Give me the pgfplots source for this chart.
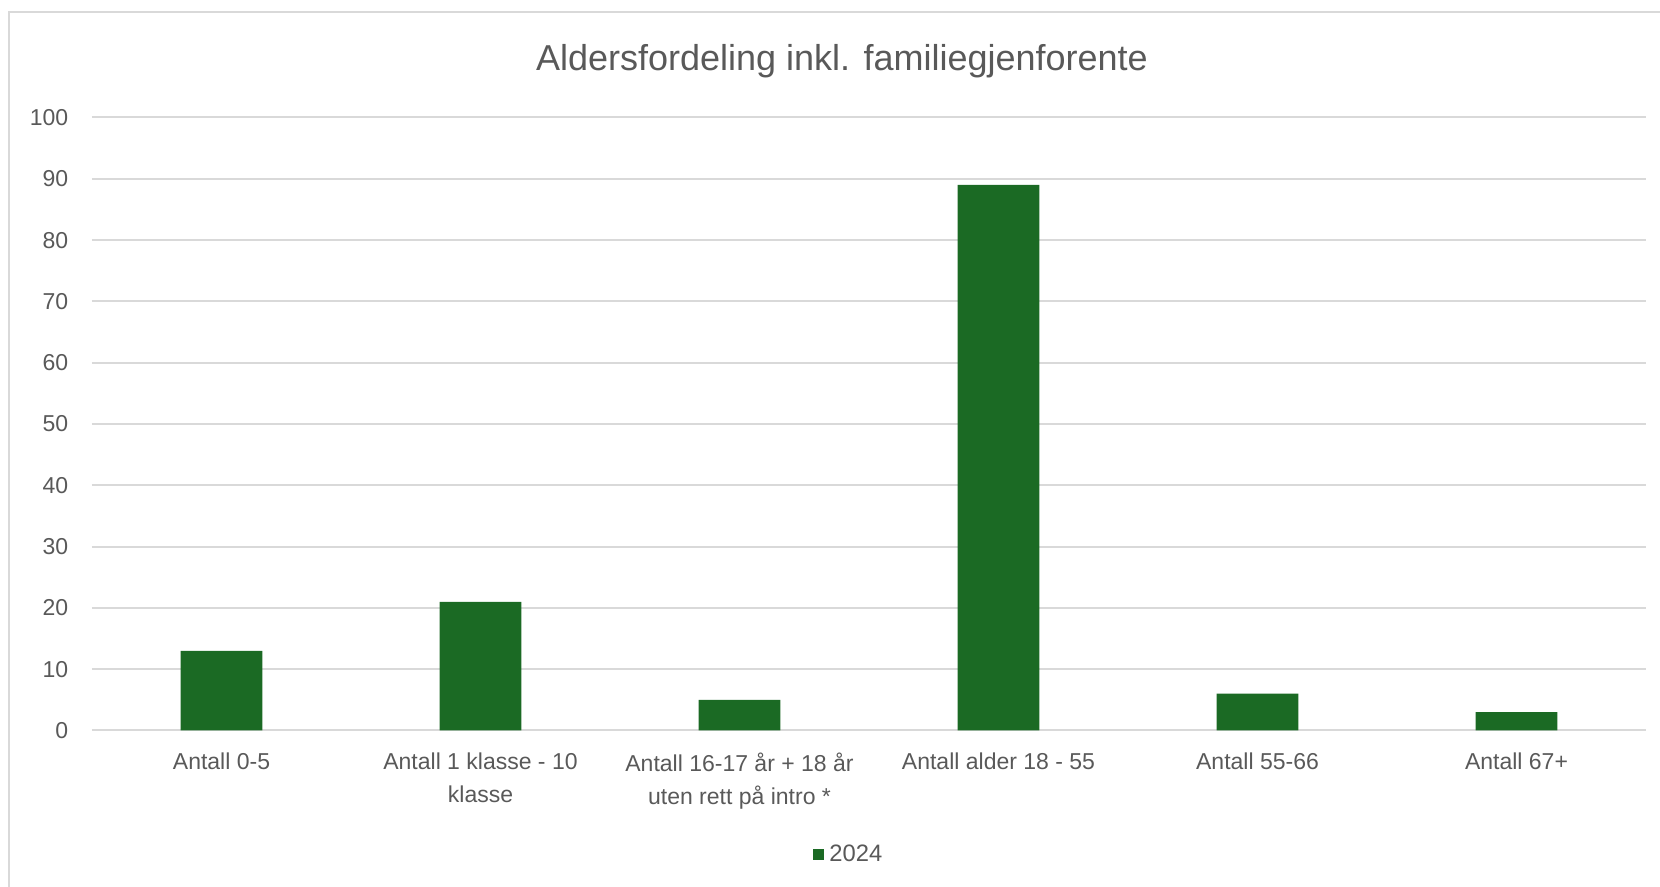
\documentclass[border=0pt]{standalone}
\usepackage{pgfplots}
\pgfplotsset{compat=1.18}
\usepackage{fontspec}
\setmainfont{Liberation Sans}

\definecolor{bargreen}{RGB}{27,106,36}
\definecolor{gridgray}{RGB}{217,217,217}
\definecolor{textgray}{RGB}{89,89,89}

\begin{document}
\begin{tikzpicture}
\path[use as bounding box] (0,0) rectangle (664pt,354.8pt);
\draw[gridgray, line width=0.8pt] (3.4pt,-10pt) rectangle (700pt,350pt);

\node[font=\fontsize{14.4}{16}\selectfont, text=textgray] at (336.8pt,330.3pt)
  {Aldersfordeling inkl. familiegjenforente};

\begin{axis}[
  at={(36.8pt,62.6pt)}, anchor=south west,
  scale only axis,
  width=621.6pt, height=245.2pt,
  ybar, bar width=0.315,
  xmin=-0.5, xmax=5.5,
  ymin=0, ymax=100,
  ytick={0,10,...,100},
  xtick={0,...,5},
  xticklabels={{Antall 0-5},{Antall 1 klasse - 10\\klasse},{Antall 16-17 år + 18 år\\uten rett på intro *},{Antall alder 18 - 55},{Antall 55-66},{Antall 67+}},
  axis line style={draw=none},
  major tick length=0pt,
  ymajorgrids, grid style={gridgray, line width=0.8pt},
  /pgf/number format/assume math mode=true,
  tick label style={font=\fontsize{9.2}{13.2}\selectfont, text=textgray},
  xticklabel style={align=center, yshift=-5.5pt},
  yticklabel style={xshift=-6pt},
  legend style={at={(0.488,-0.203)}, anchor=center, draw=none,
    font=\fontsize{9.5}{11}\selectfont, text=textgray},
  legend image code/.code={\fill[#1] (0pt,-2.2pt) rectangle (4.4pt,2.2pt);},
]
\addplot[fill=bargreen, draw=none] coordinates {(0,13) (1,21) (2,5) (3,89) (4,6) (5,3)};
\addlegendentry{2024}
\end{axis}
\end{tikzpicture}
\end{document}
